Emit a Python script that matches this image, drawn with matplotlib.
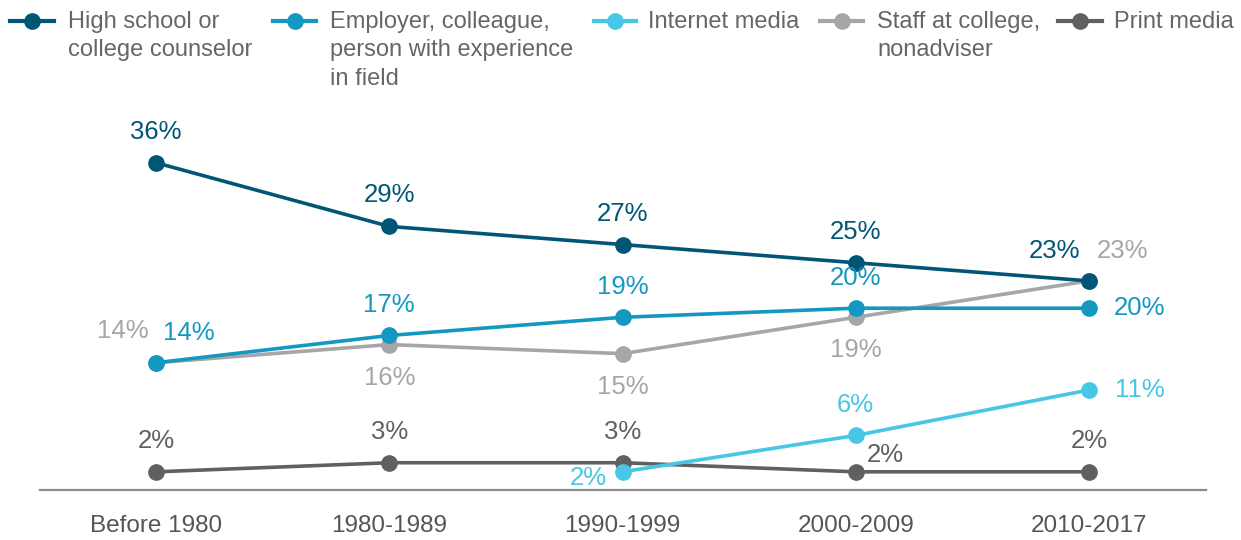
import matplotlib
matplotlib.use("Agg")
import matplotlib.pyplot as plt
from matplotlib.lines import Line2D
import numpy as np

plt.rcParams['font.family'] = ['Liberation Sans', 'DejaVu Sans']

periods = ["Before 1980", "1980-1989", "1990-1999", "2000-2009", "2010-2017"]
high_school = [36, 29, 27, 25, 23]
employer = [14, 17, 19, 20, 20]
internet = [np.nan, np.nan, 2, 6, 11]
staff = [14, 16, 15, 19, 23]
print_media = [2, 3, 3, 2, 2]

legend_labels = ["High school or\ncollege counselor",
                 "Employer, colleague,\nperson with experience\nin field",
                 "Internet media",
                 "Staff at college,\nnonadviser",
                 "Print media"]

c_hs = "#005674"
c_emp = "#1497c1"
c_int = "#48c6e5"
c_staff = "#a6a6a8"
c_print = "#5f6062"
colors = [c_hs, c_emp, c_int, c_staff, c_print]

W, H = 1241, 540
fig = plt.figure(figsize=(W / 100, H / 100), dpi=100)
ax = fig.add_axes([39.5 / W, (H - 490) / H, 1166 / W, 363.6 / H])
x = np.arange(len(periods))

lw = 2.6
ms = 11
series = [
    (staff, c_staff, 2),
    (print_media, c_print, 3),
    (internet, c_int, 4),
    (employer, c_emp, 5),
    (high_school, c_hs, 6),
]
for vals, col, z in series:
    ax.plot(x, vals, color=col, lw=lw, marker='o', ms=ms, zorder=z, clip_on=False)

fs = 17.5
fs_lab = 18.5
fs_leg = 17

def lab(xi, yi, text, col, dx, dy, ha='center'):
    ax.annotate(text, (xi, yi), xytext=(dx, dy), textcoords='offset pixels',
                ha=ha, va='center', color=col, fontsize=fs_lab, zorder=10)

# High school
for i, v in enumerate(high_school):
    if i == 4:
        lab(i, v, f"{v}%", c_hs, -34, 30)
    else:
        lab(i, v, f"{v}%", c_hs, 0, 31)
# Employer
for i, v in enumerate(employer):
    if i == 0:
        lab(i, v, f"{v}%", c_emp, 33, 30)
    elif i == 4:
        lab(i, v, f"{v}%", c_emp, 51, 0)
    else:
        lab(i, v, f"{v}%", c_emp, 0, 30)
# Staff
for i, v in enumerate(staff):
    if i == 0:
        lab(i, v, f"{v}%", c_staff, -33, 32)
    elif i == 4:
        lab(i, v, f"{v}%", c_staff, 34, 30)
    else:
        lab(i, v, f"{v}%", c_staff, 0, -33)
# Internet
for i, v in enumerate(internet):
    if np.isnan(v):
        continue
    if i == 2:
        lab(i, v, f"{int(v)}%", c_int, -34, -6)
    elif i == 4:
        lab(i, v, f"{int(v)}%", c_int, 51, 0)
    else:
        lab(i, v, f"{int(v)}%", c_int, 0, 30)
# Print
for i, v in enumerate(print_media):
    if i == 3:
        lab(i, v, f"{v}%", c_print, 30, 17)
    else:
        lab(i, v, f"{v}%", c_print, 0, 31)

ax.set_xlim(-0.5, 4.5)
ax.set_ylim(0, 40)
ax.set_yticks([])
ax.set_xticks(x)
ax.set_xticklabels(periods, fontsize=fs, color="#555555")
ax.tick_params(axis='x', length=0, pad=18)
for s in ['top', 'right', 'left']:
    ax.spines[s].set_visible(False)
ax.spines['bottom'].set_color("#8c8c8c")
ax.spines['bottom'].set_linewidth(1.6)
ax.patch.set_alpha(0)

# Custom legend
leg = [
    (10, 54, 68),
    (273, 316, 330),
    (594, 636, 648),
    (820, 863, 877),
    (1058, 1102, 1114),
]
for (x0, x1, tx), col, text in zip(leg, colors, legend_labels):
    ly = 1 - 21 / H
    fig.add_artist(Line2D([x0 / W, x1 / W], [ly, ly], color=col, lw=3,
                          transform=fig.transFigure))
    fig.add_artist(Line2D([(x0 + x1) / 2 / W], [ly], color=col, marker='o', ms=ms,
                          transform=fig.transFigure))
    fig.text(tx / W, 1 - 11 / H, text, ha='left', va='top', fontsize=fs_leg,
             color="#666666", linespacing=1.37)

fig.savefig("out.png", dpi=100)
